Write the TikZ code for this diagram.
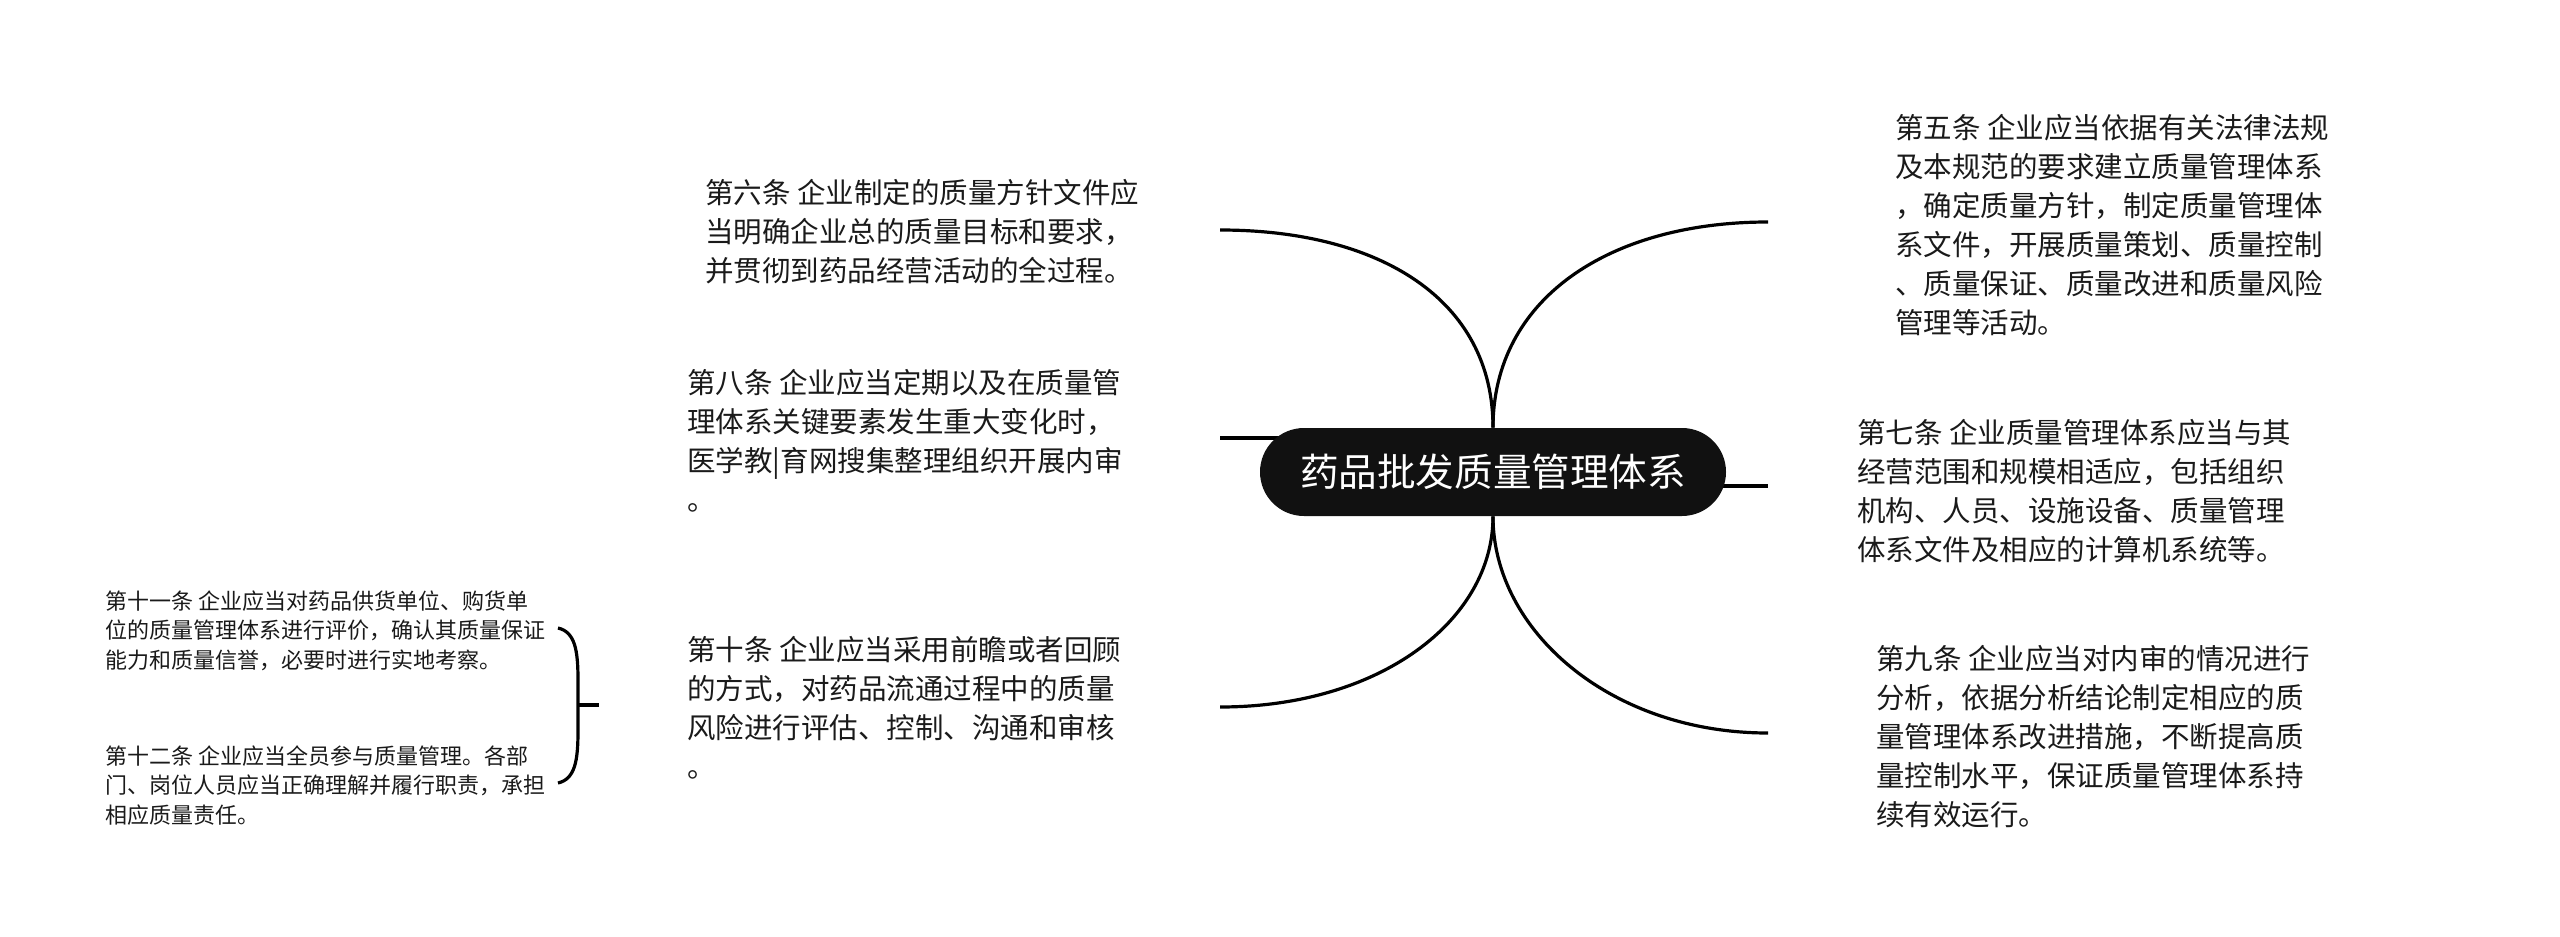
\documentclass[tikz,border=0pt]{standalone}
\usepackage{fontspec}
\setmainfont{Noto Sans CJK SC}
\usetikzlibrary{backgrounds}
\definecolor{ink}{HTML}{1A1A1A}
\definecolor{pillfill}{HTML}{111111}
\begin{document}
\begin{tikzpicture}[x=0.5pt,y=-0.5pt,
  txt/.style={anchor=north west, inner sep=0pt, align=left, text=ink, font=\fontsize{14.25pt}{19.5pt}\selectfont},
  smalltxt/.style={txt, font=\fontsize{11pt}{14.75pt}\selectfont},
  link/.style={line width=1.6pt, draw=black},
  brk/.style={line width=1.6pt, draw=black},
  pill/.style={fill=pillfill, rounded corners=22pt, minimum width=233pt, minimum height=44pt, inner sep=0pt, text=white, font=\fontsize{19.3pt}{23pt}\selectfont}]
\useasboundingbox (0,0) rectangle (2560,937);

\node[pill] (c) at (1493,472) {药品批发质量管理体系};

\coordinate (e6) at (1220,230);
\coordinate (e5) at (1768,222);
\coordinate (e8) at (1220,438);
\coordinate (e7) at (1768,486);
\coordinate (e10) at (1220,707);
\coordinate (e9) at (1768,733);

\draw[link] (c.north) .. controls +(0,-128) and +(160,0) .. (e6);
\draw[link] (c.north) .. controls +(0,-128) and +(-160,0) .. (e5);
\draw[link] (c.south) .. controls +(0,104) and +(160,0) .. (e10);
\draw[link] (c.south) .. controls +(0,114) and +(-158,0) .. (e9);
\begin{scope}[on background layer]
\draw[link] (c.center |- e8) -- (e8);
\draw[link] (c.center |- e7) -- (e7);
\end{scope}

\node[txt] (n6) at (705,179) {第六条 企业制定的质量方针文件应\\当明确企业总的质量目标和要求，\\并贯彻到药品经营活动的全过程。};
\node[txt] (n8) at (687,369) {第八条 企业应当定期以及在质量管\\理体系关键要素发生重大变化时，\\医学教|育网搜集整理组织开展内审\\。};
\node[txt] (n10) at (687,636) {第十条 企业应当采用前瞻或者回顾\\的方式，对药品流通过程中的质量\\风险进行评估、控制、沟通和审核\\。};
\node[txt] (n5) at (1895,114) {第五条 企业应当依据有关法律法规\\及本规范的要求建立质量管理体系\\，确定质量方针，制定质量管理体\\系文件，开展质量策划、质量控制\\、质量保证、质量改进和质量风险\\管理等活动。};
\node[txt] (n7) at (1857,419) {第七条 企业质量管理体系应当与其\\经营范围和规模相适应，包括组织\\机构、人员、设施设备、质量管理\\体系文件及相应的计算机系统等。};
\node[txt] (n9) at (1876,645) {第九条 企业应当对内审的情况进行\\分析，依据分析结论制定相应的质\\量管理体系改进措施，不断提高质\\量控制水平，保证质量管理体系持\\续有效运行。};
\node[smalltxt] (n11) at (105,590) {第十一条 企业应当对药品供货单位、购货单\\位的质量管理体系进行评价，确认其质量保证\\能力和质量信誉，必要时进行实地考察。};
\node[smalltxt] (n12) at (105,745) {第十二条 企业应当全员参与质量管理。各部\\门、岗位人员应当正确理解并履行职责，承担\\相应质量责任。};

\coordinate (b1) at (558,628);
\coordinate (b2) at (558,783);
\coordinate (bm) at (578,705);
\coordinate (bt) at (599,705);
\draw[brk] (b1) .. controls (575,632) and (578,650) .. (578,680) -- (578,731) .. controls (578,761) and (575,779) .. (b2);
\draw[brk] (bm) -- (bt);
\end{tikzpicture}
\end{document}
